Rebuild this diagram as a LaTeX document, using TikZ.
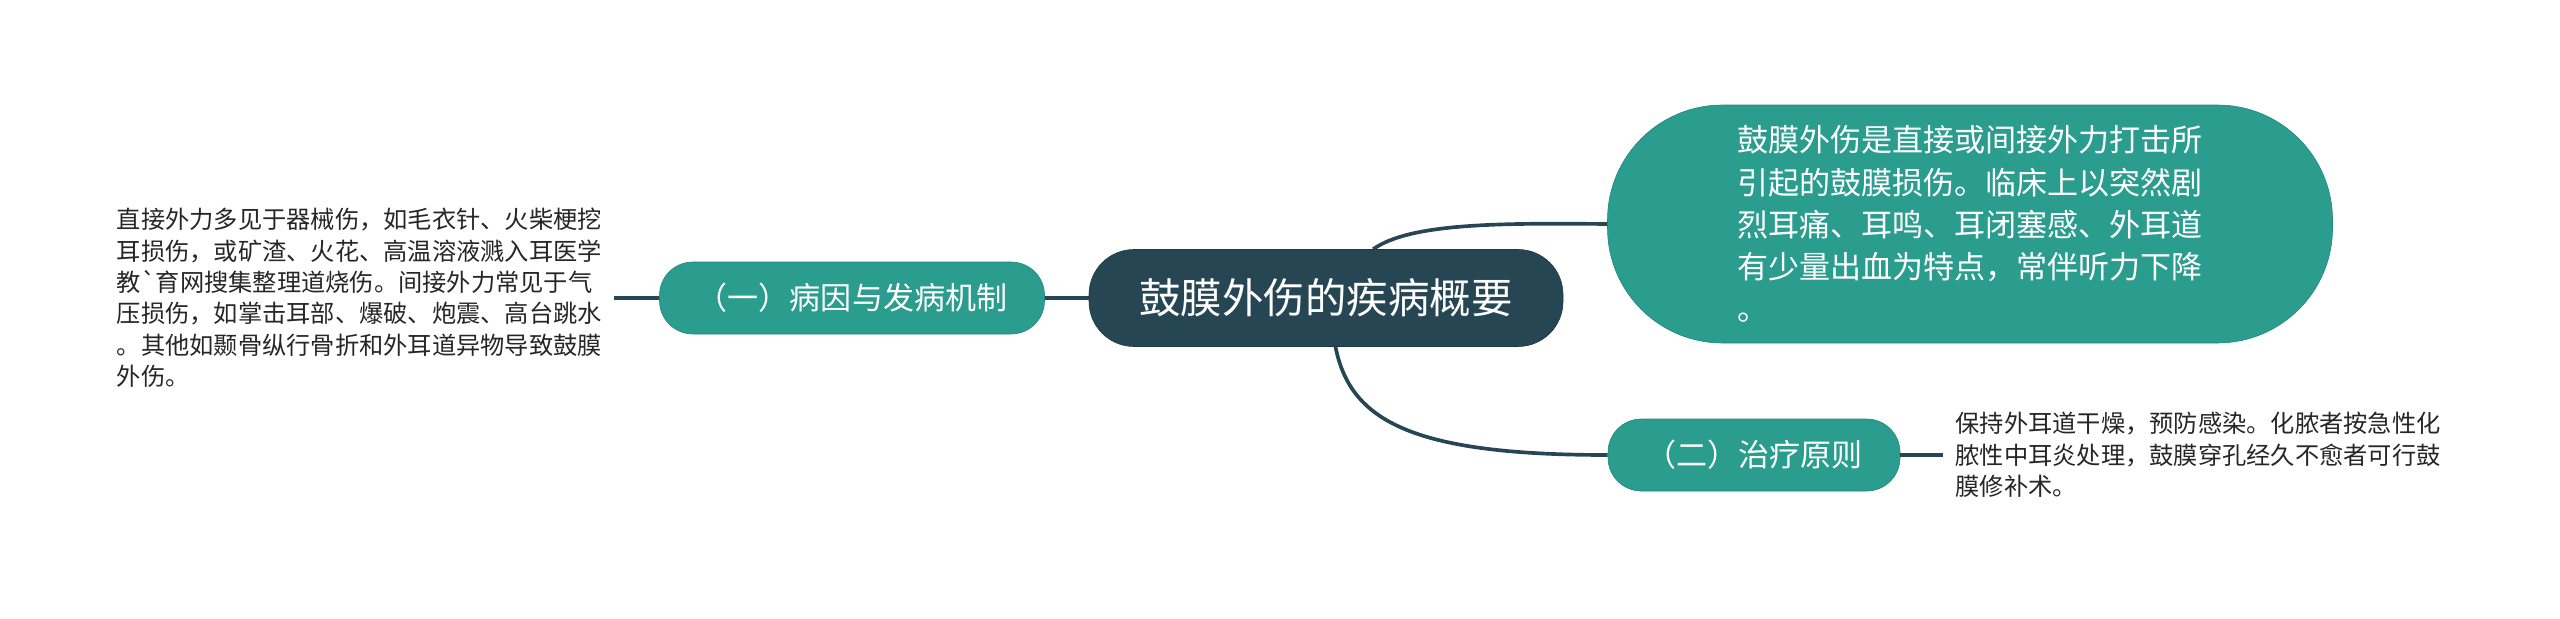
\documentclass[tikz,border=0pt]{standalone}
\usepackage{fontspec}
\setmainfont{Noto Sans CJK SC}[Ligatures=TeXOff]
\usepackage{tikz}
\usetikzlibrary{positioning}

\definecolor{xmteal}{HTML}{2A9D8F}
\definecolor{xmdark}{HTML}{264653}

\begin{document}
\begin{tikzpicture}[x=0.3mm, y=-0.3mm,
		topic/.style={rectangle, rounded corners=13.5mm, fill=xmdark, draw=xmdark!80!black, line width=0.5pt, text=white, inner sep=0pt, minimum width=142.2mm, minimum height=29.1mm, font=\fontsize{35.4pt}{40pt}\selectfont},
		branch/.style={rectangle, rounded corners=10mm, fill=xmteal, draw=xmteal!85!black, line width=0.5pt, text=white, inner sep=0pt, minimum height=21.6mm, font=\fontsize{26.5pt}{32pt}\selectfont},
		note/.style={inner xsep=3.6mm, inner ysep=0pt, align=left, text=black!85, font=\fontsize{20.7pt}{26.8pt}\selectfont},
		link/.style={draw=xmdark, line width=1.1mm}]
			\useasboundingbox (0,0) rectangle (2560,618);
			
			% Central topic
			\node[topic] (hub) at (1326, 298) {鼓膜外伤的疾病概要};
			
			% Branches
			\node[branch, minimum width=115.5mm] (cause) at (852, 298) {（一）病因与发病机制};
			\node[branch, minimum width=87.6mm] (treat) at (1754, 455) {（二）治疗原则};
			\node[branch, rounded corners=34.5mm, minimum width=217.5mm, minimum height=71.4mm, align=left, font=\fontsize{26.5pt}{35.9pt}\selectfont] (desc) at (1970, 224) {鼓膜外伤是直接或间接外力打击所\\引起的鼓膜损伤。临床上以突然剧\\烈耳痛、耳鸣、耳闭塞感、外耳道\\有少量出血为特点，常伴听力下降\\。};
			
			% Notes
			\node[note, left=13.5mm of cause] (causenote) {直接外力多见于器械伤，如毛衣针、火柴梗挖\\耳损伤，或矿渣、火花、高温溶液溅入耳医学\\教`育网搜集整理道烧伤。间接外力常见于气\\压损伤，如掌击耳部、爆破、炮震、高台跳水\\。其他如颞骨纵行骨折和外耳道异物导致鼓膜\\外伤。};
			\node[note, right=12.9mm of treat] (treatnote) {保持外耳道干燥，预防感染。化脓者按急性化\\脓性中耳炎处理，鼓膜穿孔经久不愈者可行鼓\\膜修补术。};
			
			% Connections
			\draw[link] (cause) -- (hub);
			\draw[link] (causenote) -- (cause);
			\draw[link] (treat) -- (treatnote);
			\draw[link] (hub.46) .. controls (1410, 223) and (1500, 223) .. (desc.west);
			\draw[link] (hub.-79) .. controls (1350, 420) and (1410, 455) .. (treat.west);
		\end{tikzpicture}
\end{document}
